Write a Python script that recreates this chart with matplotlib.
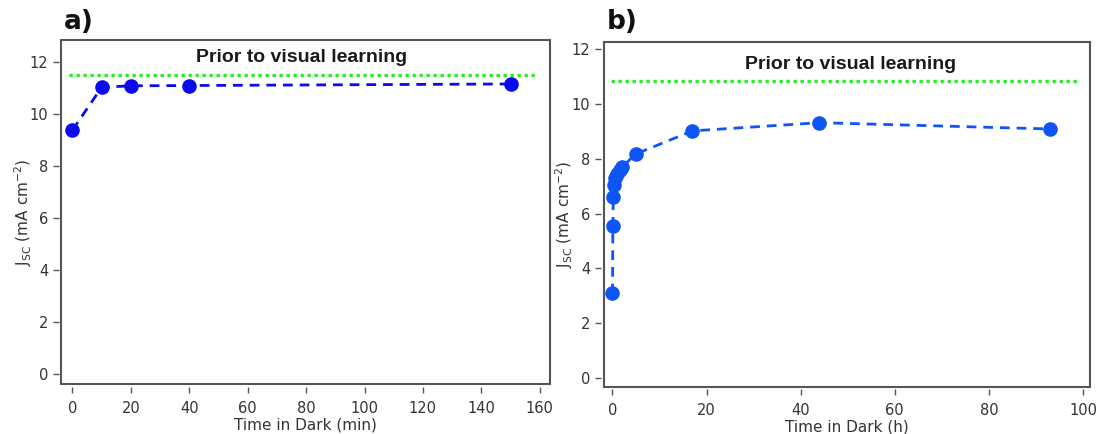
import matplotlib
matplotlib.use("Agg")
import matplotlib.pyplot as plt
from matplotlib.patches import Rectangle

# ---- data ----
time_a_min = [0, 10, 20, 40, 150]
jsc_a = [9.38, 11.03, 11.09, 11.10, 11.16]
prior_a = 11.50

time_b_h = [0, 0.08, 0.17, 0.33, 0.5, 1.0, 1.5, 2.0, 5, 17, 44, 93]
jsc_b = [3.08, 5.55, 6.62, 7.05, 7.30, 7.45, 7.60, 7.70, 8.18, 9.02, 9.32, 9.09]
prior_b = 10.85

xticks_a = [0, 20, 40, 60, 80, 100, 120, 140, 160]
xticks_b = [0, 20, 40, 60, 80, 100]
yticks = [0, 2, 4, 6, 8, 10, 12]

title_text = "Prior to visual learning"
ylabel_text = r"J$\mathregular{_{SC}}$ (mA cm$\mathregular{^{-2}}$)"

plt.rcParams['font.family'] = ['DejaVu Sans']
plt.rcParams['mathtext.fontset'] = 'dejavusans'

fig = plt.figure(figsize=(10.99, 4.34), dpi=100)
W, H = 1099, 434

def add_axes(l, r, t, b):
    return fig.add_axes([l / W, (H - b) / H, (r - l) / W, (b - t) / H])

ax_a = add_axes(61.3, 550, 39.8, 384.3)
ax_b = add_axes(603.5, 1090, 41.7, 386.7)

frame_col = '#555555'
txt_col = '#333333'

def style(ax, xticks, xlabel, ylab_x):
    for s in ax.spines.values():
        s.set_visible(False)
    ax.spines['left'].set_position(('outward', 2))
    ax.spines['bottom'].set_position(('outward', 2))
    ax.add_patch(Rectangle((0, 0), 1, 1, transform=ax.transAxes, fill=False,
                           edgecolor=frame_col, linewidth=1.5, zorder=5, clip_on=False))
    ax.set_xticks(xticks)
    ax.set_yticks(yticks)
    ax.tick_params(direction='out', length=4.5, width=1.0, color=frame_col,
                   labelsize=10.5, labelcolor=txt_col)
    ax.tick_params(axis='x', pad=5.5)
    ax.tick_params(axis='y', pad=3.0)
    ax.set_xlabel(xlabel, fontsize=11, color=txt_col, labelpad=1)
    ax.set_ylabel(ylabel_text, fontsize=11, color=txt_col)
    ax.yaxis.set_label_coords(ylab_x, 0.5)

# panel a
col_a = '#0a0aef'
ax_a.plot(time_a_min, jsc_a, linestyle=(0, (3.5, 2.5)), color=col_a, lw=2.0,
          marker='o', markersize=10.5, markeredgewidth=0, zorder=3)
ax_a.hlines(prior_a, -1, 159, colors='#2ee82e', linestyles=(0, (1, 1.1)), lw=2.4, zorder=2)
ax_a.set_xlim(-3.8, 163.5)
ax_a.set_ylim(-0.40, 12.86)
style(ax_a, xticks_a, "Time in Dark (min)", -0.056)
ax_a.text(78.5, 12.18, title_text, ha='center', va='center', fontsize=14,
          fontweight='bold', family=['Liberation Sans'], color='#1a1a1a')

# panel b
col_b = '#0d55f5'
ax_b.plot(time_b_h, jsc_b, linestyle=(0, (3.5, 2.5)), color=col_b, lw=2.0,
          marker='o', markersize=10.5, markeredgewidth=0, zorder=3)
ax_b.hlines(prior_b, -0.4, 99.2, colors='#2ee82e', linestyles=(0, (1, 1.1)), lw=2.4, zorder=2)
ax_b.set_xlim(-1.91, 101.5)
ax_b.set_ylim(-0.33, 12.28)
style(ax_b, xticks_b, "Time in Dark (h)", -0.059)
ax_b.text(50.6, 11.43, title_text, ha='center', va='center', fontsize=14,
          fontweight='bold', family=['Liberation Sans'], color='#1a1a1a')

# panel labels
fig.text(64 / W, 1 - 22 / H, "a)", fontsize=19, fontweight='bold', ha='left', va='center',
         color='#111111')
fig.text(607 / W, 1 - 22 / H, "b)", fontsize=19, fontweight='bold', ha='left', va='center',
         color='#111111')

fig.savefig("out.png", dpi=100)
